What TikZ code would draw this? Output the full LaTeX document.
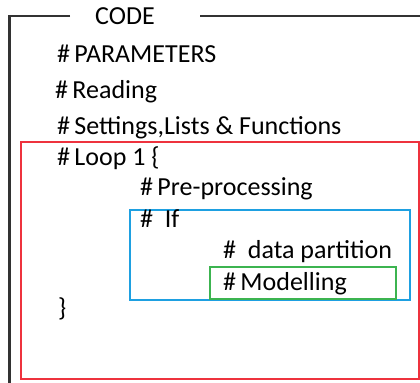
\documentclass[tikz,border=0pt]{standalone}
\usepackage{fontspec}
\setmainfont{Carlito}
\definecolor{framegray}{RGB}{50,50,50}
\definecolor{loopred}{RGB}{238,50,62}
\definecolor{ifblue}{RGB}{30,160,225}
\definecolor{modgreen}{RGB}{60,180,80}
\begin{document}
\begin{tikzpicture}[x=1bp,y=-1bp,
  codeline/.style={anchor=base west,inner sep=0pt,font=\fontsize{26bp}{30bp}\selectfont},
  blockbox/.style={line width=2bp}]
\useasboundingbox (0,0) rectangle (420,383);
% outer frame with title gap
\node[codeline] (code) at (95,24) {CODE};
\coordinate (tl) at (9.5,16);
\coordinate (gapL) at (70,16);
\coordinate (gapR) at (200,16);
\coordinate (tr) at (420,16);
\coordinate (bl) at (9.5,383);
\draw[framegray,line width=2bp] (gapL) -- (tl) -- (bl);
\draw[framegray,line width=2bp] (gapR) -- (tr);
% nested blocks
\draw[blockbox,loopred] (20.5,141.5) rectangle (418.5,378.5);
\draw[blockbox,ifblue] (130,209.5) rectangle (409.5,300);
\draw[blockbox,modgreen] (209.5,266.5) rectangle (395.5,299);
% code lines
\node[codeline] (params) at (57,62) {\#\,PARAMETERS};
\node[codeline] (reading) at (55,98) {\#\,Reading};
\node[codeline] (settings) at (57,134) {\#\,Settings,Lists \& Functions};
\node[codeline] (loop) at (57,165) {\#\,Loop 1 \{};
\node[codeline] (pre) at (140,195) {\#\,Pre-processing};
\node[codeline] (if) at (140,227) {\#\ \ If};
\node[codeline] (part) at (223,258) {\#\ \ data partition};
\node[codeline] (model) at (223,290) {\#\,Modelling};
\node[codeline] (close) at (58,316) {\}};
\end{tikzpicture}
\end{document}
